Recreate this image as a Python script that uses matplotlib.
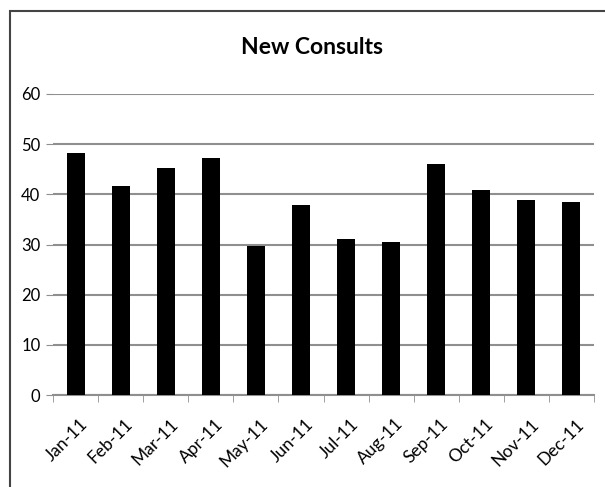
import matplotlib.pyplot as plt
from matplotlib.patches import Rectangle
from matplotlib.transforms import ScaledTranslation

# Monthly new consults, 2011
months = ['Jan-11', 'Feb-11', 'Mar-11', 'Apr-11', 'May-11', 'Jun-11',
          'Jul-11', 'Aug-11', 'Sep-11', 'Oct-11', 'Nov-11', 'Dec-11']
consults = [48.2, 41.7, 45.2, 47.2, 29.7, 37.8, 31.1, 30.5, 46.0, 40.8, 38.9, 38.4]

plt.rcParams['font.family'] = ['Lato', 'DejaVu Sans']

fig = plt.figure(figsize=(6.05, 4.87), dpi=100)
ax = fig.add_axes([53 / 605, 1 - 395 / 487, 541 / 605, 301 / 487])

x = range(len(months))
ax.bar(x, consults, width=0.4, color='black', zorder=3)

ax.set_xlim(-0.5, len(months) - 0.5)
ax.set_ylim(0, 60)
ax.set_yticks(range(0, 61, 10))
ax.yaxis.grid(True, color='#8f8f8f', linewidth=1.5, zorder=0)

ax.set_xticks(x)
ax.set_xticklabels(months, rotation=45, ha='right', rotation_mode='anchor', fontsize=12.5)
ax.set_xticks([i - 0.5 for i in range(len(months) + 1)], minor=True)
ax.tick_params(axis='x', which='major', length=0, pad=15)
ax.tick_params(axis='x', which='minor', length=5, color='#8f8f8f', direction='out')
ax.tick_params(axis='y', length=5, color='#8f8f8f', labelsize=12, pad=4)

# nudge rotated labels a little to the right
shift = ScaledTranslation(4 / 100, 0, fig.dpi_scale_trans)
for lbl in ax.get_xticklabels():
    lbl.set_transform(lbl.get_transform() + shift)

for s in ['top', 'right', 'left']:
    ax.spines[s].set_visible(False)
ax.spines['bottom'].set_color('#8f8f8f')
ax.spines['bottom'].set_linewidth(1.5)

fig.text(312 / 605, 1 - 47 / 487, 'New Consults', ha='center', va='center',
         fontsize=16.5, fontweight='bold')

# outer chart frame (cropped at right and bottom)
fig.patches.append(Rectangle((10 / 605, -0.1), 1.2, 1 - 11 / 487 + 0.1,
                             transform=fig.transFigure, fill=False,
                             edgecolor='#444444', linewidth=1.5))

fig.savefig('out.png', dpi=100)
